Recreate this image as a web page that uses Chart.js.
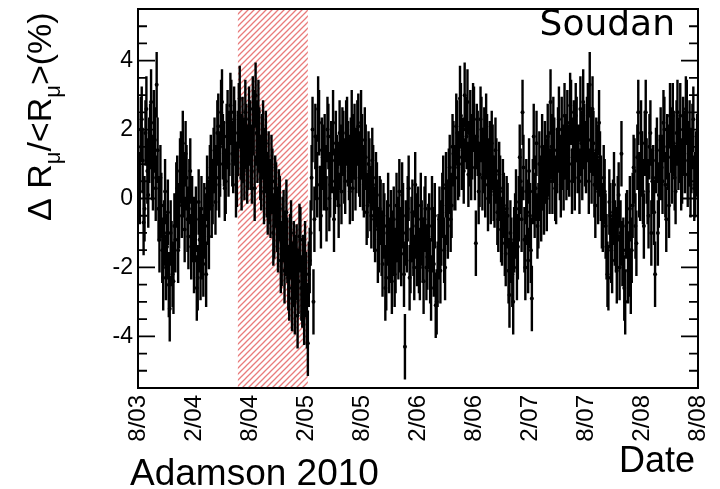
<!DOCTYPE html>
<html>
<head>
<meta charset="utf-8">
<script src="https://cdn.jsdelivr.net/npm/chart.js@4.4.0/dist/chart.umd.min.js"></script>
<style>
    html, body { margin: 0; padding: 0; background: #fff; }
    #wrap { width: 720px; height: 489px; }
</style>
</head>
<body>
<div id="wrap"><canvas id="muonChart" width="720" height="489"></canvas></div>
<script>
// x is months since 8/03, one reading every 0.2 month,
// plus a second set of readings half a step later
const startMonth = 0;
const stepMonth = 0.2;

// Delta R_mu / <R_mu> in %
const rateValues = [
    1.5, 0.2, 2.3, -0.7, 1.9, 0.8, 1.4, 2.8, 0.6, 1.7,
    3.3, -0.3, 0.6, -1.5, -1.0, -2.0, -0.4, -3.2, -1.6, -2.4,
    -1.2, 0.3, -0.5, 1.0, 1.6, -0.9, 0.6, -1.1, 0.8, -0.3,
    -1.8, -0.6, -2.3, -1.2, -0.3, -1.9, -0.8, 0.3, -1.1, 0.9,
    0.2, 1.4, 0.6, 2.1, 1.0, 2.8, 1.3, 0.5, 2.2, 1.6,
    2.5, 1.1, 1.9, 0.7, 2.4, 1.5, 2.0, 0.9, 1.8, 1.2,
    1.9, 0.8, 2.2, 3.0, 1.4, 1.7, 0.6, 1.9, 1.1, 0.4,
    1.0, -0.2, 0.5, -0.8, 0.1, -1.2, -0.3, -1.6, -0.7, -1.3,
    -1.5, -2.6, -1.0, -2.2, -3.0, -1.7, -2.4, -1.2, -2.8, -3.3,
    -2.5, -4.2, -1.8, 0.6, -3.0, 1.8, 0.4, 2.2, -0.5, 1.2,
    1.5, -0.3, 1.8, 0.4, 1.1, -0.6, 1.6, 0.7, 1.9, 0.2,
    1.6, 0.5, 2.0, 0.9, 1.4, 0.3, 1.8, 1.1, 2.1, 0.7,
    1.5, 0.4, 1.2, -0.2, 0.8, -0.5, 0.6, -0.9, 0.1, -1.2,
    -0.4, -1.9, -0.8, -2.3, -0.2, -1.5, -2.4, -0.6, -1.8, -0.9,
    0.2, -1.6, -0.5, -4.3, -1.2, 0.3, -1.8, -0.4, -2.0, -0.8,
    -0.6, -2.0, -1.0, -2.4, -0.3, -1.7, -0.8, -2.6, -1.2, -0.5,
    -3.0, -1.4, -2.1, -0.2, -1.5, 0.4, -0.8, 0.9, -0.2, 1.3,
    0.6, 1.9, 1.0, 2.4, 1.4, 3.0, 1.8, 0.7, 2.2, 1.5,
    2.3, -1.3, 1.6, 0.7, 2.0, 1.1, 0.4, 1.5, 0.8, 0.2,
    1.2, 0.1, 0.8, -0.6, 0.3, -1.0, -0.2, -1.6, -0.5, -2.8,
    -1.5, -3.0, -0.8, -2.0, -0.3, 0.5, 2.5, -1.2, 0.2, -1.8,
    -0.5, -2.9, 1.8, 0.3, -0.8, 1.0, -0.3, 0.6, 1.3, 0.0,
    1.0, 2.8, 0.5, 1.4, 0.2, 1.7, 0.9, 2.0, 0.6, 1.5,
    2.2, 1.0, 2.5, 1.4, 0.6, 2.0, 1.2, 2.6, 0.9, 1.8,
    1.1, 2.4, 3.3, 0.8, 1.6, -0.2, 1.2, 2.2, 0.3, -0.6,
    0.2, -1.4, -2.3, -0.5, -1.8, 0.4, -1.2, -0.3, -2.0, 1.3,
    -1.5, -3.0, -0.7, -1.9, -2.4, -0.2, 0.8, -1.3, 2.5, 0.3,
    1.0, -0.8, 2.5, 0.2, 1.5, -1.0, 0.6, -2.2, 1.4, 0.1,
    1.7, 0.5, 2.0, -0.6, 1.2, 2.4, 0.8, 1.6, 0.2, 2.5,
    1.4, 0.6, 2.0, 1.1, 2.5, 1.3, 0.4, 1.8, 0.3, 1.0,
    2.1
];
const rateValuesMid = [
    0.4, 2.0, 1.1, -0.3, 2.6, 0.1, 1.8, 0.9, 2.2, 0.3,
    1.4, -1.2, -0.2, -2.3, 0.2, -1.4, -2.5, -1.0, -2.2, -0.8,
    0.1, -1.5, 0.8, -0.2, 0.4, 1.3, -0.6, 0.2, -1.4, -0.9,
    -0.9, -2.6, -0.1, -2.0, -1.4, -0.5, -2.2, -0.4, 0.6, -0.2,
    1.1, -0.1, 1.9, 0.4, 2.5, 1.5, 0.3, 1.8, 1.0, 2.7,
    1.3, 2.3, 0.4, 1.6, 2.9, 0.6, 1.4, 2.5, 0.8, 2.3,
    1.2, 2.6, 0.3, 1.9, 2.5, 0.9, 1.5, 0.2, 1.6, -0.1,
    0.2, 0.9, -1.0, 0.3, -0.6, -0.1, -1.8, -0.9, -2.1, -0.4,
    -2.3, -1.4, -2.9, -1.6, -2.0, -3.4, -1.1, -2.6, -2.0, -1.6,
    -3.4, -2.2, -1.0, 2.0, -0.6, 0.9, 2.6, 0.0, 1.4, 0.6,
    0.6, 2.0, 0.0, 1.3, 2.2, 0.5, 0.9, -0.2, 1.2, 1.7,
    0.8, 1.9, 1.3, 0.2, 2.2, 1.5, 0.6, 1.9, 1.0, 2.2,
    0.6, 1.7, -0.4, 1.0, 0.0, 1.1, -0.6, 0.4, -1.5, -0.3,
    -1.3, -0.5, -2.6, -1.0, -1.8, -0.7, -1.3, -2.2, -0.2, -1.4,
    -1.2, 0.1, -2.2, -1.0, -0.3, -2.3, -0.9, -1.3, 0.4, -1.6,
    -1.8, -0.2, -1.5, -0.6, -2.0, -1.1, -2.1, -0.3, -1.9, -3.1,
    -2.2, -0.6, -1.0, 0.3, -2.0, -0.4, 0.5, -0.6, 1.5, 0.6,
    2.1, 0.9, 2.9, 1.2, 0.8, 2.0, 2.8, 1.3, 0.9, 2.4,
    0.9, 1.8, 0.2, 2.3, 0.6, 1.7, 2.1, 0.0, 1.3, 1.6,
    0.3, 1.4, -0.4, 0.7, -0.9, 0.2, -1.3, -0.3, -2.1, -1.0,
    -2.2, -1.2, -0.1, -1.4, 1.2, -0.6, 0.9, -2.0, -0.4, 0.8,
    -1.5, 0.2, -0.2, 1.6, -0.5, 0.3, 1.5, -0.1, 0.8, 1.8,
    0.5, 1.5, 2.0, 0.3, 1.1, 2.3, 0.4, 1.2, 2.4, 0.9,
    1.2, 2.7, 0.5, 1.9, 2.4, 1.1, 0.5, 1.6, 2.8, 1.3,
    2.0, 0.5, 1.7, 2.6, 0.4, 1.4, 0.2, 1.0, -0.5, 0.6,
    -0.8, -2.2, -0.1, -1.5, -0.4, -1.0, -2.1, 0.1, -1.0, -1.6,
    -2.6, -0.8, -2.1, -0.3, -1.5, 0.9, -0.8, 1.2, 0.4, 1.9,
    0.2, 1.6, 0.8, -0.5, 1.9, 0.5, -0.4, 1.1, -1.0, 0.9,
    0.9, 2.2, 0.4, 1.5, -0.2, 1.7, 2.4, 0.6, 1.9, 1.2,
    2.4, 0.8, 1.6, 2.6, 0.7, 1.9, 1.1, 2.3, 0.4, 1.5
];
const errorBar = 0.95;

const xTickMonths = [0, 6, 12, 18, 24, 30, 36, 42, 48, 54, 60];
const xTickLabels = ['8/03', '2/04', '8/04', '2/05', '8/05', '2/06', '8/06', '2/07', '8/07', '2/08', '8/08'];
const yTicks = [-4, -2, 0, 2, 4];
const yMinorTicks = [-5, -4.5, -3.5, -3, -2.5, -1.5, -1, -0.5, 0.5, 1, 1.5, 2.5, 3, 3.5, 4.5, 5];
const hatchRange = [10.7, 18.2];

const points = rateValues.map((v, i) => ({ x: startMonth + i * stepMonth, y: v }))
    .concat(rateValuesMid.map((v, i) => ({ x: startMonth + (i + 0.5) * stepMonth, y: v })));

// red hatched band, behind the data
const hatchPlugin = {
    id: 'hatch',
    beforeDatasetsDraw(chart) {
        const { ctx, chartArea, scales: { x } } = chart;
        const tile = document.createElement('canvas');
        tile.width = 6;
        tile.height = 6;
        const t = tile.getContext('2d');
        t.strokeStyle = 'rgba(224, 72, 72, 0.72)';
        t.lineWidth = 1.3;
        t.beginPath();
        t.moveTo(-1, 7); t.lineTo(7, -1);
        t.moveTo(-1, 1); t.lineTo(1, -1);
        t.moveTo(5, 7); t.lineTo(7, 5);
        t.stroke();
        const x0 = x.getPixelForValue(hatchRange[0]);
        const x1 = x.getPixelForValue(hatchRange[1]);
        ctx.save();
        ctx.fillStyle = ctx.createPattern(tile, 'repeat');
        ctx.fillRect(x0, chartArea.top, x1 - x0, chartArea.height);
        ctx.restore();
    }
};

const errorBarPlugin = {
    id: 'errorBars',
    beforeDatasetsDraw(chart) {
        const { ctx, chartArea, scales: { x, y } } = chart;
        ctx.save();
        ctx.beginPath();
        ctx.rect(chartArea.left, chartArea.top, chartArea.width, chartArea.height);
        ctx.clip();
        ctx.strokeStyle = '#000';
        ctx.lineWidth = 2.4;
        ctx.beginPath();
        chart.data.datasets[0].data.forEach(p => {
            const px = x.getPixelForValue(p.x);
            ctx.moveTo(px, y.getPixelForValue(p.y - errorBar));
            ctx.lineTo(px, y.getPixelForValue(p.y + errorBar));
        });
        ctx.stroke();
        ctx.restore();
    }
};

// frame with inward ticks on both y sides
const framePlugin = {
    id: 'frame',
    afterDraw(chart) {
        const { ctx, chartArea: a, scales: { y } } = chart;
        ctx.save();
        ctx.strokeStyle = '#000';
        ctx.lineWidth = 2;
        ctx.strokeRect(a.left, a.top, a.width, a.height);
        ctx.lineWidth = 1.8;
        ctx.beginPath();
        yTicks.forEach(v => {
            const py = y.getPixelForValue(v);
            ctx.moveTo(a.left, py); ctx.lineTo(a.left + 17, py);
            ctx.moveTo(a.right, py); ctx.lineTo(a.right - 17, py);
        });
        yMinorTicks.forEach(v => {
            const py = y.getPixelForValue(v);
            ctx.moveTo(a.left, py); ctx.lineTo(a.left + 9, py);
            ctx.moveTo(a.right, py); ctx.lineTo(a.right - 9, py);
        });
        ctx.stroke();
        ctx.restore();
    }
};

const labelPlugin = {
    id: 'labels',
    afterDraw(chart) {
        const { ctx } = chart;
        ctx.save();
        ctx.fillStyle = '#000';

        // y axis title with subscripts
        ctx.translate(51, 221);
        ctx.rotate(-Math.PI / 2);
        const parts = [['\u0394 R', false], ['\u03bc', true], ['/<R', false], ['\u03bc', true], ['>(%)', false]];
        let cx = 0;
        parts.forEach(([txt, sub]) => {
            ctx.font = sub ? '22px "Liberation Sans"' : '34px "Liberation Sans"';
            ctx.fillText(txt, cx, sub ? 9 : 0);
            cx += ctx.measureText(txt).width;
        });
        ctx.setTransform(1, 0, 0, 1, 0, 0);

        ctx.font = '36px "DejaVu Sans"';
        ctx.textAlign = 'right';
        ctx.fillText('Soudan', 675, 35);

        ctx.font = '36px "Liberation Sans"';
        ctx.fillText('Date', 695, 472);

        ctx.textAlign = 'left';
        ctx.font = '37px "Liberation Sans"';
        ctx.fillText('Adamson 2010', 130, 485);
        ctx.restore();
    }
};

Chart.defaults.color = '#000';

new Chart(document.getElementById('muonChart'), {
    type: 'scatter',
    data: {
        datasets: [{
            data: points,
            pointRadius: 2,
            pointBackgroundColor: '#000',
            pointBorderWidth: 0,
            showLine: false
        }]
    },
    options: {
        responsive: false,
        animation: false,
        layout: {
            padding: { left: 0, right: 22, top: 9, bottom: 0 }
        },
        plugins: {
            legend: { display: false },
            tooltip: { enabled: false }
        },
        scales: {
            x: {
                type: 'linear',
                min: 0,
                max: 60,
                grid: { display: false, drawTicks: false },
                border: { display: false },
                afterBuildTicks: s => { s.ticks = xTickMonths.map(v => ({ value: v })); },
                afterFit: s => {
                    s.height = 101;
                    s.paddingLeft = 0;
                    s.paddingRight = 0;
                },
                ticks: {
                    autoSkip: false,
                    maxRotation: 90,
                    minRotation: 90,
                    padding: 7,
                    font: { family: 'Liberation Sans', size: 24 },
                    callback: (v, i) => xTickLabels[i]
                }
            },
            y: {
                min: -5.5,
                max: 5.5,
                grid: { display: false, drawTicks: false },
                border: { display: false },
                afterBuildTicks: s => { s.ticks = yTicks.map(v => ({ value: v })); },
                afterFit: s => {
                    s.width = 138;
                    s.paddingTop = 0;
                    s.paddingBottom = 0;
                },
                ticks: {
                    padding: 5,
                    font: { family: 'Liberation Sans', size: 23 }
                }
            }
        }
    },
    plugins: [hatchPlugin, errorBarPlugin, framePlugin, labelPlugin]
});
</script>
</body>
</html>
